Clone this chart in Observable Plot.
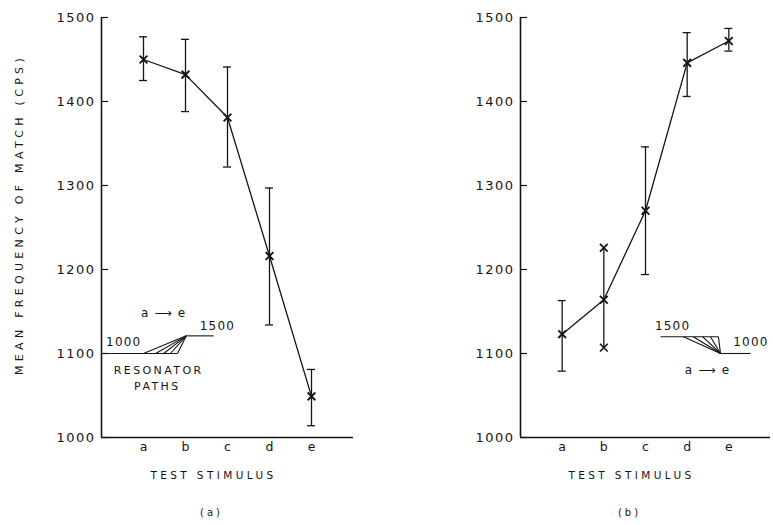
<!DOCTYPE html>
<html>
<head>
<meta charset="utf-8">
<script src="https://cdn.jsdelivr.net/npm/d3@7"></script>
<script src="https://cdn.jsdelivr.net/npm/@observablehq/plot@0.6"></script>
<style>
  body { margin: 0; background: #fff; }
  #wrap { position: relative; width: 773px; height: 525px; background: #fff; }
  #wrap svg { position: absolute; top: 0; overflow: visible; background: transparent; }
  [aria-description="ytick"] text { letter-spacing: 1.5px; }
  [aria-description="xtick"] text { letter-spacing: 0px; }
  [aria-description="xlabel"] text { letter-spacing: 3.4px; }
  [aria-description="ylabel"] text { letter-spacing: 4.3px; }
  [aria-description="panel"] text { letter-spacing: 3px; }
  [aria-description="inset-num"] text { letter-spacing: 1.2px; }
  [aria-description="inset-word"] text { letter-spacing: 2.4px; }
</style>
</head>
<body>
<div id="wrap"></div>
<script>
// ---- data ----
const categories = ["a", "b", "c", "d", "e"];
const catPos = [1, 2, 3, 4, 5];
const yTicks = [1000, 1100, 1200, 1300, 1400, 1500];

// panel (a)
const meanA = [1450, 1432, 1381, 1216, 1049];
const lowA  = [1425, 1388, 1322, 1134, 1014];
const highA = [1477, 1474, 1441, 1297, 1081];
const capsA = [true, true, true, true, true];

// panel (b)
const meanB = [1123, 1164, 1270, 1446, 1472];
const lowB  = [1079, 1107, 1194, 1406, 1460];
const highB = [1163, 1226, 1346, 1482, 1487];
const capsB = [true, false, true, true, true];

// inset schematic (resonator paths), in chart units
const insetA = {
  lowX: [0.1, 1.81], lowY: 1100,
  highX: [2.02, 2.67], highY: 1121,
  fanX: [1.0, 1.29, 1.48, 1.64, 1.81], fanY: 1100,
  joinX: 2.02, joinY: 1121,
  labels: [
    {x: 1.48, y: 1148, t: "a ⟶ e", k: "num"},
    {x: 0.53, y: 1114, t: "1000", k: "num"},
    {x: 2.76, y: 1132, t: "1500", k: "num"},
    {x: 1.36, y: 1080, t: "RESONATOR", k: "word"},
    {x: 1.33, y: 1061, t: "PATHS", k: "word"}
  ]
};
const insetB = {
  lowX: [4.8, 5.52], lowY: 1100,
  highX: [3.36, 4.75], highY: 1120,
  fanX: [3.91, 4.15, 4.37, 4.56, 4.75], fanY: 1120,
  joinX: 4.8, joinY: 1100,
  labels: [
    {x: 3.65, y: 1132, t: "1500", k: "num"},
    {x: 5.53, y: 1113, t: "1000", k: "num"},
    {x: 4.49, y: 1080, t: "a ⟶ e", k: "num"}
  ]
};

const yLabel = "MEAN FREQUENCY OF MATCH (CPS)";
const xLabel = "TEST STIMULUS";
const ink = "#151515";
const font = "DejaVu Sans";

function panel({mean, low, high, caps, inset, width, marginLeft, marginRight, showYLabel, tag}) {
  const rows = categories.map((c, i) => ({c, x: catPos[i], mean: mean[i], low: low[i], high: high[i], cap: caps[i]}));
  const segs = [
    {x1: inset.lowX[0], x2: inset.lowX[1], y1: inset.lowY, y2: inset.lowY},
    {x1: inset.highX[0], x2: inset.highX[1], y1: inset.highY, y2: inset.highY},
    ...inset.fanX.map(fx => ({x1: fx, y1: inset.fanY, x2: inset.joinX, y2: inset.joinY}))
  ];
  const marks = [
    Plot.ruleX([0], {stroke: ink, strokeWidth: 1.6}),
    Plot.ruleY([1000], {stroke: ink, strokeWidth: 1.6}),
    Plot.ruleY(yTicks, {y: d => d, x1: 0, x2: 0, insetRight: -7, stroke: ink, strokeWidth: 1.2}),
    Plot.text(yTicks, {y: d => d, text: d => String(d), frameAnchor: "left", textAnchor: "end", dx: -6, fontSize: 13, fontFamily: font, fill: ink, ariaDescription: "ytick"}),
    Plot.text(rows, {x: "x", text: "c", frameAnchor: "bottom", dy: 13, fontSize: 12.5, fontFamily: font, fill: ink, ariaDescription: "xtick"}),
    Plot.text([xLabel], {frameAnchor: "bottom", dy: 41, dx: -14, fontSize: 10.5, fontFamily: font, fill: ink, ariaDescription: "xlabel"}),
    Plot.text([tag], {frameAnchor: "bottom", dy: 78, dx: -16, fontSize: 10, fontFamily: font, fill: ink, ariaDescription: "panel"}),
    // error bars
    Plot.ruleX(rows, {x: "x", y1: "low", y2: "high", stroke: ink, strokeWidth: 1.3}),
    Plot.ruleY(rows.filter(d => d.cap), {y: "high", x1: "x", x2: "x", insetLeft: -4, insetRight: -4, stroke: ink, strokeWidth: 1.3}),
    Plot.ruleY(rows.filter(d => d.cap), {y: "low", x1: "x", x2: "x", insetLeft: -4, insetRight: -4, stroke: ink, strokeWidth: 1.3}),
    Plot.dot(rows.filter(d => !d.cap), {x: "x", y: "high", symbol: "times", r: 3.6, stroke: ink, strokeWidth: 1.7}),
    Plot.dot(rows.filter(d => !d.cap), {x: "x", y: "low", symbol: "times", r: 3.6, stroke: ink, strokeWidth: 1.7}),
    // mean line and markers
    Plot.line(rows, {x: "x", y: "mean", stroke: ink, strokeWidth: 1.3}),
    Plot.dot(rows, {x: "x", y: "mean", symbol: "times", r: 3.6, stroke: ink, strokeWidth: 1.9}),
    // inset schematic
    Plot.link(segs, {x1: "x1", y1: "y1", x2: "x2", y2: "y2", stroke: ink, strokeWidth: 1.1}),
    Plot.text(inset.labels.filter(d => d.k === "num"), {x: "x", y: "y", text: "t", fontSize: 12, fontFamily: font, fill: ink, ariaDescription: "inset-num"}),
    Plot.text(inset.labels.filter(d => d.k === "word"), {x: "x", y: "y", text: "t", fontSize: 11, fontFamily: font, fill: ink, ariaDescription: "inset-word"})
  ];
  if (showYLabel) {
    marks.push(Plot.text([yLabel], {frameAnchor: "left", textAnchor: "middle", rotate: -90, dx: -82, dy: -13, fontSize: 11, fontFamily: font, fill: ink, ariaDescription: "ylabel"}));
  }
  return Plot.plot({
    width, height: 525,
    marginTop: 17, marginBottom: 88, marginLeft, marginRight,
    x: {domain: [0, 6], axis: null},
    y: {domain: [1000, 1500], axis: null},
    style: {background: "transparent", fontFamily: font, overflow: "visible"},
    marks
  });
}

const wrap = document.getElementById("wrap");
const left = panel({mean: meanA, low: lowA, high: highA, caps: capsA, inset: insetA, width: 386, marginLeft: 101, marginRight: 33, showYLabel: true, tag: "(a)"});
left.style.left = "0px";
const right = panel({mean: meanB, low: lowB, high: highB, caps: capsB, inset: insetB, width: 387, marginLeft: 134, marginRight: 3, showYLabel: false, tag: "(b)"});
right.style.left = "386px";
wrap.appendChild(left);
wrap.appendChild(right);
</script>
</body>
</html>
